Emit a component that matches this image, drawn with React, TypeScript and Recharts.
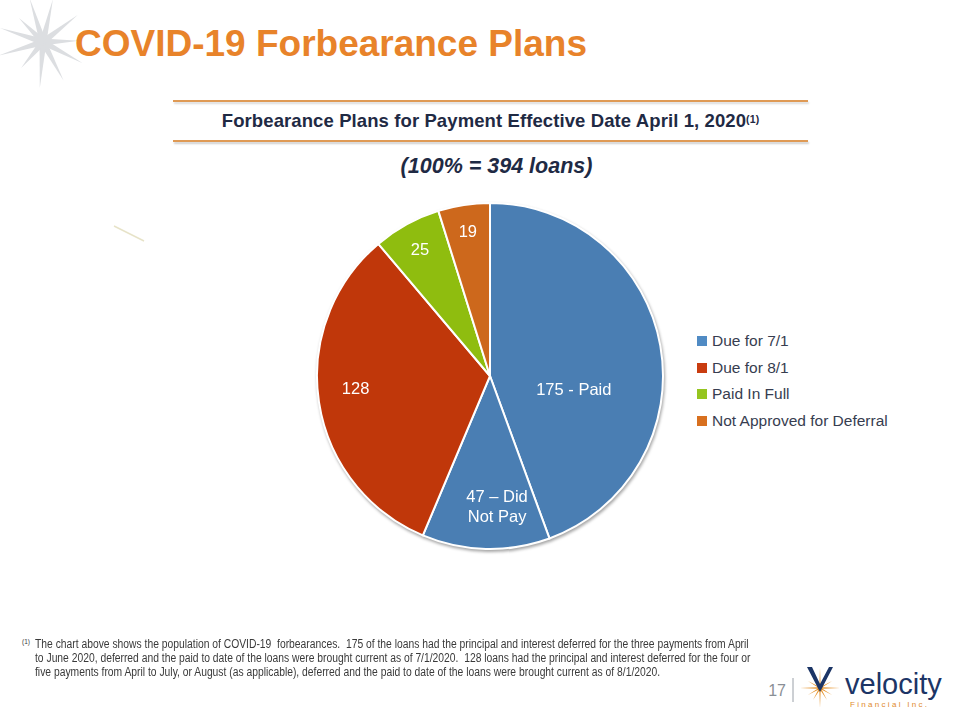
import React from "react";
import { PieChart, Pie, Cell } from "recharts";

// slices, clockwise from 12 o'clock
const sliceLabels = ["175 - Paid", "47 – Did\nNot Pay", "128", "25", "19"];
const sliceValues = [175, 47, 128, 25, 19];
const sliceCategory = ["Due for 7/1", "Due for 7/1", "Due for 8/1", "Paid In Full", "Not Approved for Deferral"];

const categories = ["Due for 7/1", "Due for 8/1", "Paid In Full", "Not Approved for Deferral"];

const footnoteLines = [
  "The chart above shows the population of COVID-19\u00a0 forbearances.\u00a0 175 of the loans had the principal and interest deferred for the three payments from April",
  "to June 2020, deferred and the paid to date of the loans were brought current as of 7/1/2020.\u00a0 128 loans had the principal and interest deferred for the four or",
  "five payments from April to July, or August (as applicable), deferred and the paid to date of the loans were brought current as of 8/1/2020.",
];

const SLICE_COLORS: Record<string, string> = {
  "Due for 7/1": "#4a7eb3",
  "Due for 8/1": "#c0370a",
  "Paid In Full": "#8fbd0f",
  "Not Approved for Deferral": "#cd681c",
};
const LEGEND_COLORS: Record<string, string> = {
  "Due for 7/1": "#508bc4",
  "Due for 8/1": "#c93c10",
  "Paid In Full": "#95c520",
  "Not Approved for Deferral": "#d8701f",
};

// where each label sits, as a fraction of the radius and an angle tweak
const LABEL_PLACE = [
  { r: 0.49, da: -18.7 },
  { r: 0.75, da: 4.5 },
  { r: 0.78, da: -3.7 },
  { r: 0.84, da: 0 },
  { r: 0.85, da: 0 },
];

const data = sliceValues.map((v, i) => ({
  name: sliceLabels[i],
  value: v,
  category: sliceCategory[i],
}));

const FONT = "'Liberation Sans', Arial, Helvetica, sans-serif";
const NAVY = "#1f2a44";
const RAD = Math.PI / 180;

function SliceLabel(props: any) {
  const { cx, cy, midAngle, outerRadius, index, name } = props;
  const p = LABEL_PLACE[index];
  const a = (midAngle + p.da) * RAD;
  const x = cx + outerRadius * p.r * Math.cos(a);
  const y = cy - outerRadius * p.r * Math.sin(a);
  const lines = String(name).split("\n");
  const lh = 20;
  const y0 = y - ((lines.length - 1) * lh) / 2;
  return (
    <text
      x={x}
      y={y0}
      fill="#ffffff"
      fontSize={16.5}
      fontFamily={FONT}
      textAnchor="middle"
      dominantBaseline="central"
    >
      {lines.map((l, i) => (
        <tspan key={i} x={x} y={y0 + i * lh}>
          {l}
        </tspan>
      ))}
    </text>
  );
}

function LegendBox() {
  return (
    <div
      style={{
        position: "absolute",
        left: 697,
        top: 328,
        fontFamily: FONT,
        fontSize: 15.5,
        color: "#373d50",
      }}
    >
      {categories.map((c) => (
        <div key={c} style={{ display: "flex", alignItems: "center", height: 26.5, whiteSpace: "nowrap" }}>
          <span
            style={{
              display: "inline-block",
              width: 10,
              height: 10,
              background: LEGEND_COLORS[c],
              marginRight: 5,
            }}
          />
          <span>{c}</span>
        </div>
      ))}
    </div>
  );
}

function CornerStar() {
  const cx = 43;
  const cy = 42;
  const arms = [
    { a: 107, r: 46 },
    { a: 77, r: 44 },
    { a: 38, r: 44 },
    { a: 2, r: 36 },
    { a: -28, r: 45 },
    { a: -62, r: 44 },
    { a: -94, r: 46 },
    { a: -130, r: 34 },
    { a: -163, r: 46 },
    { a: 162, r: 46 },
    { a: 135, r: 34 },
  ];
  return (
    <svg width={120} height={120} style={{ position: "absolute", left: 0, top: 0 }}>
      {arms.map((arm, i) => {
        const a = arm.a * RAD;
        const tx = cx + arm.r * Math.cos(a);
        const ty = cy - arm.r * Math.sin(a);
        const w = 3.5;
        const px = -Math.sin(a) * w;
        const py = -Math.cos(a) * w;
        return (
          <polygon
            key={i}
            points={`${cx + px},${cy + py} ${tx},${ty} ${cx - px},${cy - py}`}
            fill="#dcdee1"
          />
        );
      })}
    </svg>
  );
}

function VelocityLogo() {
  const pts: string[] = [];
  const cx = 820;
  const cy = 688;
  for (let i = 0; i < 24; i++) {
    const a = (i * 15 + 90) * RAD;
    const r = i % 2 === 1 ? 2.5 : i % 6 === 0 ? 20 : 14;
    pts.push(`${cx + r * Math.cos(a)},${cy - r * Math.sin(a)}`);
  }
  return (
    <svg width={960} height={720} style={{ position: "absolute", left: 0, top: 0, pointerEvents: "none" }}>
      <line x1={793} y1={678} x2={793} y2={702} stroke="#9aa0a8" strokeWidth={1} />
      <text x={786} y={696} fontFamily={FONT} fontSize={16} fill="#8a8f96" textAnchor="end">
        17
      </text>
      <polygon points={pts.join(" ")} fill="#e6952f" />
      <path d="M807,667 L820,692 L833,667 L829,667 L820,684 L812,667 Z" fill="#1c3566" />
      <text x={845} y={694} fontFamily={FONT} fontSize={29} fill="#1c3566">
        velocity
      </text>
      <text x={850} y={707} fontFamily={FONT} fontSize={8} fill="#e08a2e" letterSpacing={2.3}>
        Financial Inc.
      </text>
    </svg>
  );
}

export default function App() {
  return (
    <div
      style={{
        position: "absolute",
        left: 0,
        top: 0,
        width: 960,
        height: 720,
        background: "#ffffff",
        overflow: "hidden",
        fontFamily: FONT,
      }}
    >
      <CornerStar />
      <svg width={960} height={720} style={{ position: "absolute", left: 0, top: 0 }}>
        <line x1={114} y1={226} x2={144} y2={241} stroke="#e7e3c8" strokeWidth={1.5} />
      </svg>
      <div
        style={{
          position: "absolute",
          left: 75,
          top: 23,
          fontSize: 37,
          fontWeight: "bold",
          color: "#e8832a",
          whiteSpace: "nowrap",
          lineHeight: "42px",
        }}
      >
        COVID-19 Forbearance Plans
      </div>

      {/* subtitle band */}
      <div
        style={{
          position: "absolute",
          left: 173,
          top: 100,
          width: 635,
          height: 2,
          background: "#df9a55",
          boxShadow: "1px 2px 2px rgba(0,0,0,0.15)",
        }}
      />
      <div
        style={{
          position: "absolute",
          left: 173,
          top: 140,
          width: 635,
          height: 2,
          background: "#df9a55",
          boxShadow: "1px 2px 2px rgba(0,0,0,0.2)",
        }}
      />
      <div
        style={{
          position: "absolute",
          left: 163,
          top: 110,
          width: 655,
          textAlign: "center",
          fontSize: 18.5,
          lineHeight: "22px",
          fontWeight: "bold",
          color: NAVY,
          whiteSpace: "nowrap",
          letterSpacing: 0.1,
        }}
      >
        Forbearance Plans for Payment Effective Date April 1, 2020
        <span style={{ fontSize: 10.5, verticalAlign: "top", position: "relative", top: -2 }}>(1)</span>
      </div>
      <div
        style={{
          position: "absolute",
          left: 179,
          top: 153,
          width: 635,
          textAlign: "center",
          fontSize: 21.5,
          lineHeight: "26px",
          fontWeight: "bold",
          fontStyle: "italic",
          color: NAVY,
        }}
      >
        (100% = 394 loans)
      </div>

      <div style={{ position: "absolute", left: 0, top: 0 }}>
        <PieChart
          width={960}
          height={720}
          margin={{ top: 0, right: 0, bottom: 0, left: 0 }}
          style={{ filter: "drop-shadow(1px 2px 1.5px rgba(0,0,0,0.35))" }}
        >
          <Pie
            data={data}
            dataKey="value"
            nameKey="name"
            cx={490}
            cy={376}
            outerRadius={173}
            startAngle={90}
            endAngle={-270}
            stroke="#ffffff"
            strokeWidth={2}
            label={SliceLabel}
            labelLine={false}
            isAnimationActive={false}
          >
            {data.map((d, i) => (
              <Cell key={i} fill={SLICE_COLORS[d.category]} />
            ))}
          </Pie>
        </PieChart>
      </div>

      <LegendBox />

      {/* footnote */}
      <div style={{ position: "absolute", left: 22, top: 637, color: "#3a3a3a", fontFamily: FONT }}>
        <span style={{ position: "absolute", left: 0, top: 1, fontSize: 6.5, whiteSpace: "nowrap" }}>(1)</span>
        {footnoteLines.map((l, i) => (
          <div
            key={i}
            style={{
              position: "absolute",
              left: 13,
              top: i * 14,
              fontSize: 12,
              lineHeight: "14px",
              whiteSpace: "nowrap",
              transform: "scaleX(0.86)",
              transformOrigin: "left top",
            }}
          >
            {l}
          </div>
        ))}
      </div>

      <VelocityLogo />
    </div>
  );
}
